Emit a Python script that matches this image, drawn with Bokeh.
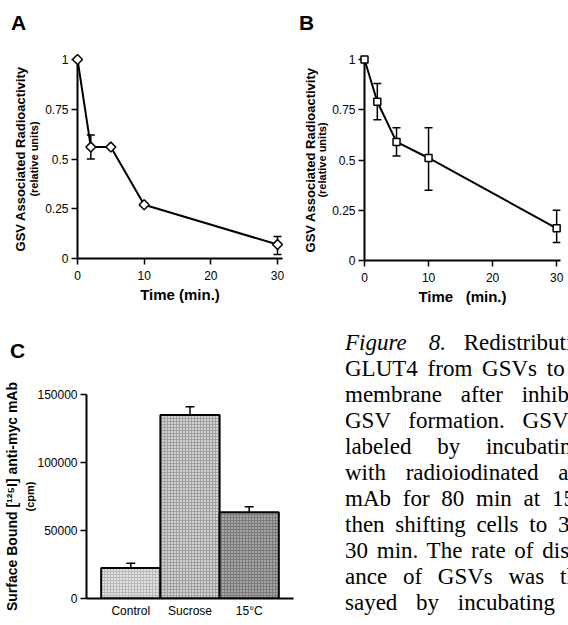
from bokeh.plotting import figure
from bokeh.layouts import column, row
from bokeh.models import (Range1d, FixedTicker, Whisker, ColumnDataSource, TeeHead,
                          LinearAxis, Div)
from bokeh.embed import file_html
from bokeh.resources import INLINE
import math

# ---------------- data ----------------
a_time = [0, 2, 5, 10, 30]
a_val = [1.0, 0.56, 0.56, 0.27, 0.07]
a_lo = [1.0, 0.50, 0.56, 0.27, 0.02]
a_hi = [1.0, 0.62, 0.56, 0.27, 0.11]

b_time = [0, 2, 5, 10, 30]
b_val = [1.0, 0.79, 0.59, 0.51, 0.16]
b_lo = [1.0, 0.70, 0.52, 0.35, 0.09]
b_hi = [1.0, 0.88, 0.66, 0.66, 0.25]

x_ticks = [0, 10, 20, 30]
y_ticks = [0, 0.25, 0.5, 0.75, 1]
y_tick_labels = ["0", "0.25", "0.5", "0.75", "1"]

c_cats = ["Control", "Sucrose", "15°C"]
c_val = [22500, 135000, 63500]
c_lo = [19500, 128500, 60000]
c_hi = [26000, 141000, 67500]
c_ticks = [0, 50000, 100000, 150000]
c_tick_labels = ["0", "50000", "100000", "150000"]

caption_lines = [
    "Redistribution of",
    "GLUT4 from GSVs to the plasma",
    "membrane after inhibition of",
    "GSV formation. GSVs were",
    "labeled by incubating cells",
    "with radioiodinated anti-myc",
    "mAb for 80 min at 15°C and",
    "then shifting cells to 37°C for",
    "30 min. The rate of disappear-",
    "ance of GSVs was then as-",
    "sayed by incubating cells",
]
# extra word spacing (px) per caption line, mimicking the justified column
caption_spacing = [12, 4, 13, 12, 20, 14, 6, 5, 3, 10, 13]

SANS = "Liberation Sans"
SERIF = "Liberation Serif"


def style_axes(p):
    p.grid.visible = False
    p.outline_line_color = None
    for ax in (p.xaxis, p.yaxis):
        ax.axis_line_width = 2
        ax.axis_line_color = "black"
        ax.major_tick_line_width = 1.5
        ax.major_tick_line_color = "black"
        ax.major_tick_in = 0
        ax.major_tick_out = 6
        ax.minor_tick_line_color = None
        ax.major_label_text_font = SANS
        ax.major_label_text_font_size = "12px"
        ax.major_label_text_color = "black"
        ax.axis_label_text_font = SANS
        ax.axis_label_text_font_style = "bold"
        ax.axis_label_text_color = "black"


def two_line_ytitle(p, main, sub, s_sub, s_main, main_size):
    yax = p.yaxis[0]
    yax.axis_label = sub
    yax.axis_label_text_font_size = "11px"
    yax.axis_label_standoff = s_sub
    outer = LinearAxis(ticker=FixedTicker(ticks=[]), axis_label=main,
                       axis_line_color=None, major_tick_out=0, major_tick_in=0,
                       minor_tick_out=0, minor_tick_in=0, major_label_standoff=0,
                       axis_label_standoff=s_main, axis_label_text_font=SANS,
                       axis_label_text_font_size=main_size, axis_label_text_font_style="bold",
                       axis_label_text_color="black")
    p.add_layout(outer, "left")


def letter_div(letter, width, height, left, top):
    html = (f'<div style="font-family:\'{SANS}\';font-weight:bold;font-size:21px;'
            f'line-height:21px;padding-left:{left}px;padding-top:{top}px;color:black">'
            f'{letter}</div>')
    return Div(text=html, width=width, height=height, margin=0)


def time_panel(time, val, lo, hi, marker, msize, mangle, xlabel, width,
               min_left, min_right, min_bottom, x_end, s_sub, s_main):
    p = figure(width=width, height=284, output_backend="svg", toolbar_location=None,
               x_range=Range1d(0, x_end), y_range=Range1d(0, 1.0),
               min_border_left=min_left, min_border_right=min_right,
               min_border_top=23, min_border_bottom=min_bottom)
    style_axes(p)
    p.xaxis.ticker = FixedTicker(ticks=x_ticks)
    p.yaxis.ticker = FixedTicker(ticks=y_ticks)
    p.yaxis.major_label_overrides = {t: s for t, s in zip(y_ticks, y_tick_labels)}
    p.xaxis.major_label_standoff = 6
    p.yaxis.major_label_standoff = 3
    p.xaxis.axis_label = xlabel
    p.xaxis.axis_label_text_font_size = "15px"
    p.xaxis.axis_label_standoff = 3
    two_line_ytitle(p, "GSV Associated Radioactivity", "(relative units)", s_sub, s_main, "13px")

    err = [(t, l, h) for t, l, h in zip(time, lo, hi) if h > l]
    esrc = ColumnDataSource(dict(x=[e[0] for e in err], lo=[e[1] for e in err],
                                 hi=[e[2] for e in err]))
    p.add_layout(Whisker(source=esrc, base="x", lower="lo", upper="hi",
                         line_color="black", line_width=1.5, level="underlay",
                         upper_head=TeeHead(size=8, line_width=1.5, line_color="black"),
                         lower_head=TeeHead(size=8, line_width=1.5, line_color="black")))
    p.line(time, val, line_color="black", line_width=2)
    p.scatter(time, val, marker=marker, size=msize, angle=mangle, level="overlay",
              fill_color="white", line_color="black", line_width=1.5)
    return p


pA = time_panel(a_time, a_val, a_lo, a_hi, "square", 7, math.pi / 4, "Time (min.)",
                284, 77, 2, 62, 30.75, 2, -2)
pB = time_panel(b_time, b_val, b_lo, b_hi, "square", 7, 0, "Time\u00a0\u00a0\u00a0(min.)",
                284, 80, 8, 60, 30.6, 1, -4)

# ---------------- panel C ----------------
c_idx = list(range(len(c_cats)))
c_fill = ["#e2e2e2", "#d2d2d2", "#a6a6a6"]
c_hatch = ["#b8b8b8", "#a0a0a0", "#7a7a7a"]
pC = figure(width=300, height=260, output_backend="svg", toolbar_location=None,
            x_range=Range1d(-0.748, 2.748), y_range=Range1d(0, 150000),
            min_border_left=86, min_border_right=7, min_border_top=29, min_border_bottom=27)
style_axes(pC)
pC.xaxis.ticker = FixedTicker(ticks=c_idx)
pC.xaxis.major_label_overrides = {i: c for i, c in zip(c_idx, c_cats)}
pC.xaxis.major_tick_out = 0
pC.xaxis.major_label_standoff = 5
pC.yaxis.ticker = FixedTicker(ticks=c_ticks)
pC.yaxis.major_label_overrides = {t: s for t, s in zip(c_ticks, c_tick_labels)}
pC.yaxis.major_label_standoff = 3
two_line_ytitle(pC, "Surface Bound [\u00b9\u00b2\u2075I] anti-myc mAb", "(cpm)", -2, 2, "14px")
csrc = ColumnDataSource(dict(x=c_idx, top=c_val, lo=c_lo, hi=c_hi, fill=c_fill, hatch=c_hatch))
pC.vbar(x="x", top="top", width=1.0, source=csrc, fill_color="fill",
        line_color="black", line_width=2,
        hatch_pattern="cross", hatch_scale=3, hatch_color="hatch", hatch_weight=1)
pC.add_layout(Whisker(source=csrc, base="x", lower="lo", upper="hi",
                      line_color="black", line_width=1.5,
                      upper_head=TeeHead(size=9, line_width=1.5, line_color="black"),
                      lower_head=TeeHead(size=9, line_width=1.5, line_color="black")))

# ---------------- caption ----------------
line_html = []
for i, (txt, ws) in enumerate(zip(caption_lines, caption_spacing)):
    if i == 0:
        txt = ('<i>Figure</i><span style="margin-left:22px"></span><i>8.</i> ' + txt)
    line_html.append(f'<div style="word-spacing:{ws}px">{txt}</div>')
caption_html = (f'<div style="width:268px;height:305px;overflow:hidden;box-sizing:border-box;'
                f'padding-left:45px;padding-top:10px;font-family:\'{SERIF}\';font-size:23px;'
                f'line-height:26px;white-space:nowrap;color:black">' + "".join(line_html) + '</div>')
caption = Div(text=caption_html, width=268, height=305, margin=0)

layout = column(
    row(column(letter_div("A", 284, 36, 11, 12), pA),
        column(letter_div("B", 284, 36, 15, 12), pB)),
    row(column(letter_div("C", 300, 45, 10, 20), pC), caption),
)
open("out.html", "w").write(file_html(layout, INLINE))
